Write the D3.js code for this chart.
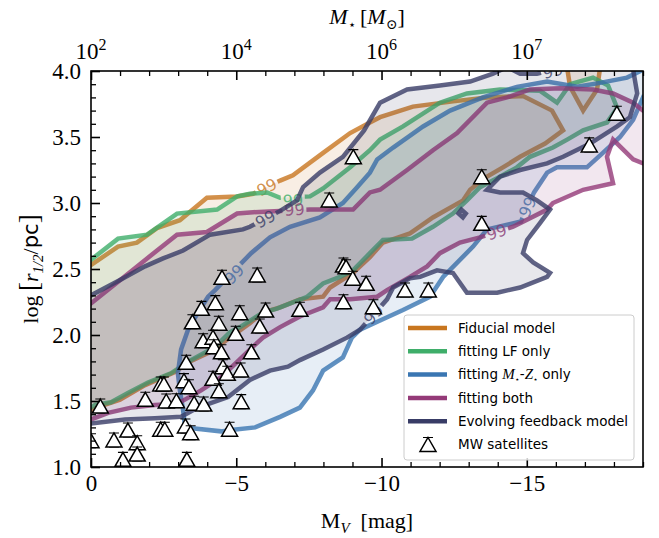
<!DOCTYPE html>
<html>
<head>
<meta charset="utf-8">
<script src="https://cdn.jsdelivr.net/npm/d3@7"></script>
<style>
  body { margin: 0; background: #fff; }
  svg { display: block; }
</style>
</head>
<body>
<svg id="chart" width="659" height="538"></svg>
<script>
// ---- axis ticks ----
const magTicks = [0, -5, -10, -15];
const massExponents = ["2", "4", "6", "7"];          // top axis: 10^n
const sizeTicks = [1.0, 1.5, 2.0, 2.5, 3.0, 3.5, 4.0];
const contourLevel = "99";

// ---- 99% contours, [M_V, log r_1/2] ----
const fiducialContour = [
  [[0.3,2.53],[0,2.53],[-0.93,2.67],[-1.58,2.70],[-2.27,2.81],[-3.06,2.87],[-3.99,3.04],[-5.03,3.05],[-5.58,3.07],
   [-6.51,3.17],[-6.95,3.21],[-7.99,3.38],[-8.92,3.53],[-9.60,3.61],[-9.95,3.65],[-11.08,3.73],[-12.46,3.77],
   [-13.63,3.80],[-14.87,3.81],[-15.87,3.70],[-16.25,3.55],[-15.63,3.45],[-14.77,3.35],[-14.18,3.27],[-13.56,3.19],
   [-13.05,3.10],[-12.81,3.02],[-11.77,2.89],[-10.98,2.77],[-10.05,2.70],[-9.60,2.59],[-9.26,2.52],[-9.02,2.47],
   [-8.23,2.36],[-7.99,2.29],[-7.19,2.27],[-6.51,2.21],[-5.92,2.17],[-5.47,2.09],[-4.78,1.98],[-4.10,1.87],
   [-3.41,1.80],[-2.89,1.72],[-1.86,1.62],[-1.00,1.51],[-0.31,1.46],[0,1.43],[0.3,1.43]],
  [[-16.3,4.15],[-16.49,3.88],[-16.94,3.70],[-17.42,3.86],[-17.6,4.15]]
];
const lfContour = [
  [[0.3,2.57],[0,2.57],[-0.93,2.73],[-1.93,2.76],[-2.96,2.92],[-4.34,2.95],[-5.03,3.05],[-5.47,3.07],[-6.06,3.08],
   [-6.51,3.04],[-7.54,3.05],[-7.99,3.11],[-8.92,3.27],[-9.60,3.40],[-9.95,3.48],[-10.74,3.58],[-12.01,3.76],
   [-12.94,3.83],[-14.08,3.86],[-15.46,3.85],[-16.04,3.76],[-16.49,3.90],[-17.28,3.95],[-17.80,3.89],[-18.11,3.72],
   [-17.76,3.61],[-16.94,3.55],[-16.39,3.48],[-15.90,3.42],[-15.11,3.35],[-14.66,3.27],[-14.08,3.20],[-13.39,3.12],
   [-12.94,3.02],[-12.46,2.92],[-11.77,2.82],[-11.05,2.73],[-10.05,2.72],[-9.60,2.62],[-9.02,2.49],[-8.57,2.44],
   [-7.99,2.39],[-7.44,2.29],[-6.40,2.20],[-5.92,2.17],[-5.13,2.06],[-4.78,2.02],[-4.27,1.91],[-3.44,1.81],
   [-2.75,1.71],[-1.96,1.64],[-1.27,1.56],[-0.69,1.49],[-0.14,1.47],[0,1.45],[0.3,1.45]]
];
const mzContour = [
  [[-3.24,1.30],[-3.17,1.43],[-3.06,1.58],[-2.99,1.71],[-3.10,1.89],[-3.34,2.04],[-3.68,2.17],[-4.03,2.29],
   [-4.27,2.34],[-5.51,2.62],[-6.16,2.74],[-6.85,2.82],[-7.88,2.89],[-8.67,3.00],[-9.16,3.12],[-9.60,3.23],
   [-9.85,3.33],[-10.40,3.42],[-11.43,3.58],[-12.36,3.70],[-13.49,3.80],[-14.66,3.88],[-15.70,3.92],[-16.73,3.88],
   [-17.52,3.91],[-18.45,3.95],[-19.00,4.01],[-19.6,4.07],[-19.6,3.72],[-19.00,3.80],[-18.66,3.63],[-18.21,3.50],
   [-17.62,3.38],[-17.07,3.27],[-16.04,3.27],[-15.70,3.23],[-15.25,3.08],[-14.80,2.86],[-13.63,2.80],[-13.15,2.67],
   [-12.12,2.44],[-11.67,2.29],[-10.74,2.19],[-9.95,2.11],[-9.26,2.04],[-8.98,1.98],[-8.67,1.83],[-7.99,1.73],
   [-7.64,1.58],[-7.19,1.45],[-6.51,1.38],[-5.65,1.30],[-4.82,1.28],[-4.48,1.27]]
];
const bothContour = [
  [[0.3,2.25],[0,2.24],[-1.03,2.42],[-1.93,2.58],[-2.96,2.76],[-3.99,2.78],[-5.03,2.92],[-5.58,2.93],[-7.54,2.95],
   [-9.02,2.95],[-9.60,3.08],[-9.95,3.10],[-10.88,3.25],[-11.77,3.40],[-12.60,3.53],[-13.63,3.76],[-14.32,3.80],
   [-15.11,3.86],[-16.14,3.87],[-17.28,3.86],[-17.97,3.83],[-18.66,3.76],[-19.00,3.70],[-19.6,3.64],[-19.6,3.29],
   [-19.00,3.30],[-18.66,3.33],[-17.97,3.48],[-17.76,3.35],[-17.97,3.15],[-16.94,3.10],[-15.90,3.00],[-15.70,2.95],
   [-14.53,2.82],[-13.39,2.74],[-12.70,2.70],[-12.01,2.62],[-11.57,2.52],[-10.98,2.44],[-10.19,2.34],[-9.85,2.29],
   [-8.92,2.27],[-8.23,2.27],[-7.99,2.21],[-7.19,2.14],[-6.51,2.06],[-5.92,1.98],[-5.47,1.89],[-4.48,1.68],
   [-3.79,1.58],[-2.99,1.48],[-2.20,1.47],[-1.38,1.45],[-0.59,1.41],[0,1.36],[0.3,1.36]]
];
const evolvingContour = [
  [[0.3,2.31],[0,2.30],[-1.03,2.42],[-1.86,2.52],[-2.48,2.58],[-3.17,2.64],[-4.10,2.76],[-5.23,2.80],[-5.47,2.82],
   [-6.51,2.94],[-7.09,3.02],[-7.30,3.12],[-7.88,3.23],[-8.67,3.35],[-9.40,3.55],[-9.95,3.76],[-10.88,3.86],
   [-12.01,3.89],[-13.05,3.92],[-13.84,3.98],[-14.32,4.03],[-14.77,3.98],[-15.35,3.98],[-16.5,4.04],[-17.0,4.15],
   [-18.40,4.15],[-18.66,4.01],[-18.80,3.83],[-18.55,3.65],[-18.11,3.58],[-17.18,3.45],[-16.25,3.35],[-15.70,3.30],
   [-14.77,3.25],[-14.08,3.20],[-13.63,3.10],[-14.08,3.08],[-14.87,3.08],[-15.35,3.02],[-15.80,2.95],[-15.46,2.85],
   [-15.01,2.72],[-14.87,2.62],[-15.22,2.55],[-15.80,2.47],[-15.70,2.44],[-14.77,2.36],[-13.98,2.32],[-12.94,2.32],
   [-12.46,2.47],[-11.91,2.49],[-11.33,2.44],[-10.98,2.43],[-10.40,2.36],[-10.19,2.27],[-9.26,2.04],[-8.81,1.98],
   [-7.99,1.89],[-7.19,1.81],[-6.78,1.76],[-6.16,1.73],[-5.47,1.66],[-4.72,1.53],[-3.68,1.45],[-3.10,1.38],
   [-2.20,1.37],[-1.17,1.36],[0,1.33],[0.3,1.33]],
  [[-12.75,2.95],[-12.9,2.92],[-12.8,2.89],[-12.65,2.92]]
];

// where each "99" contour label sits, [M_V, log r_1/2]
const fiducialLabels = [[-6.05,3.12]];
const lfLabels = [[-6.95,3.02]];
const mzLabels = [[-4.93,2.46],[-15.02,2.97]];
const bothLabels = [[-7.0,2.95],[-13.96,2.78]];
const evolvingLabels = [[-6.0,2.88],[-9.72,2.155],[-15.9,4.0]];

// ---- Milky Way satellites ----
const satMV = [-0.32,0.0,-0.79,-1.27,-1.59,-1.59,-1.10,-1.87,-2.40,-2.51,-2.59,-2.94,-2.40,-2.54,-3.20,-3.37,
  -3.28,-3.55,-3.88,-3.25,-3.43,-3.30,-3.49,-3.80,-4.28,-4.40,-4.51,-5.72,-3.86,-4.20,-4.23,-4.49,-4.98,-5.12,
  -6.01,-5.81,-5.52,-4.54,-4.69,-4.20,-4.40,-5.15,-5.17,-4.77,-7.19,-8.69,-8.78,-9.01,-9.47,-8.69,-9.72,-10.81,
  -11.61,-13.45,-13.45,-18.10,-17.15,-9.03,-8.20];
const satLogR = [1.462,1.199,1.205,1.28,1.184,1.098,1.058,1.513,1.629,1.629,1.50,1.502,1.286,1.286,1.654,1.608,
  1.793,1.483,1.477,1.311,1.26,1.058,2.10,2.202,2.245,2.089,2.437,2.455,1.957,1.983,1.911,1.873,2.013,2.169,
  2.189,2.068,1.873,1.76,1.71,1.672,1.578,1.735,1.495,1.286,2.195,2.53,2.517,2.43,2.392,2.252,2.214,2.341,
  2.341,3.199,2.846,3.68,3.44,3.351,3.023];

const models = [
  { name: "Fiducial model", color: "#c8761f", rings: fiducialContour, labels: fiducialLabels },
  { name: "fitting LF only", color: "#3fae6a", rings: lfContour, labels: lfLabels },
  { name: "fitting M-Z only", color: "#3a76b2", rings: mzContour, labels: mzLabels },
  { name: "fitting both", color: "#943a78", rings: bothContour, labels: bothLabels },
  { name: "Evolving feedback model", color: "#383c66", rings: evolvingContour, labels: evolvingLabels }
];

// ---- layout ----
const W = 659, H = 538;
const margin = { top: 71, right: 16, bottom: 71, left: 91 };
const x = d3.scaleLinear().domain([0, -19]).range([margin.left, W - margin.right]);
const y = d3.scaleLinear().domain([1, 4]).range([H - margin.bottom, margin.top]);
const serif = "'Liberation Serif', 'DejaVu Serif', serif";
const sans = "'DejaVu Sans', sans-serif";

const svg = d3.select("#chart");
const defs = svg.append("defs");
defs.append("clipPath").attr("id", "plotClip").append("rect")
  .attr("x", x(0)).attr("y", y(4)).attr("width", x(-19) - x(0)).attr("height", y(1) - y(4));

const plot = svg.append("g").attr("clip-path", "url(#plotClip)");
const line = d3.line().x(d => x(d[0])).y(d => y(d[1]));

// orientation of the contour segment closest to a label
function labelAngle(rings, px, py) {
  let best = { d: Infinity, a: 0 };
  rings.forEach(r => {
    const pts = r.map(p => [x(p[0]), y(p[1])]);
    for (let k = 0; k < pts.length; k++) {
      const a = pts[k], b = pts[(k + 1) % pts.length];
      const dx = b[0] - a[0], dy = b[1] - a[1];
      const L2 = dx * dx + dy * dy || 1;
      let t = ((px - a[0]) * dx + (py - a[1]) * dy) / L2;
      t = Math.max(0, Math.min(1, t));
      const qx = a[0] + t * dx - px, qy = a[1] + t * dy - py;
      const d = qx * qx + qy * qy;
      if (d < best.d) {
        let ang = Math.atan2(dy, dx) * 180 / Math.PI;
        if (ang > 90) ang -= 180;
        if (ang < -90) ang += 180;
        best = { d, a: ang };
      }
    }
  });
  return best.a;
}

models.forEach((m, i) => {
  const d = m.rings.map(r => line(r) + "Z").join("");
  plot.append("path").attr("d", d)
    .attr("fill", m.color).attr("fill-opacity", 0.12).attr("stroke", "none");

  const labelPos = m.labels.map(l => {
    const px = x(l[0]), py = y(l[1]);
    return { px, py, ang: labelAngle(m.rings, px, py) };
  });

  // inline label gaps
  const mask = defs.append("mask").attr("id", "gap" + i)
    .attr("maskUnits", "userSpaceOnUse").attr("x", 0).attr("y", 0).attr("width", W).attr("height", H);
  mask.append("rect").attr("width", W).attr("height", H).attr("fill", "white");
  labelPos.forEach(p => {
    mask.append("rect").attr("x", -12).attr("y", -7).attr("width", 24).attr("height", 14)
      .attr("fill", "black").attr("transform", `translate(${p.px},${p.py}) rotate(${p.ang})`);
  });

  plot.append("path").attr("d", d)
    .attr("fill", "none").attr("stroke", m.color).attr("stroke-opacity", 0.8)
    .attr("stroke-width", 4.5).attr("stroke-linejoin", "miter").attr("stroke-miterlimit", 3)
    .attr("mask", `url(#gap${i})`);

  labelPos.forEach(p => {
    plot.append("text").attr("transform", `translate(${p.px},${p.py}) rotate(${p.ang})`)
      .attr("text-anchor", "middle").attr("dy", "0.36em")
      .attr("font-family", sans).attr("font-size", 16)
      .attr("fill", m.color).attr("fill-opacity", 0.8)
      .text(contourLevel);
  });
});

// ---- satellites ----
const tri = "M0,-7L8,7L-8,7Z";
function satMarker(g) {
  g.append("path").attr("d", "M-5,-7H5M-5,7H5").attr("stroke", "#000").attr("stroke-width", 1.1);
  g.append("path").attr("d", tri).attr("fill", "#fff").attr("stroke", "#000").attr("stroke-width", 1.5)
    .attr("stroke-linejoin", "miter");
}
const sats = plot.append("g");
satMV.forEach((mv, i) => {
  const g = sats.append("g").attr("transform", `translate(${x(mv)},${y(satLogR[i])})`);
  satMarker(g);
});

// ---- axes ----
function styleAxis(g, width) {
  g.select(".domain").remove();
  g.selectAll(".tick line").attr("stroke", "#000").attr("stroke-width", width);
  g.selectAll(".tick text").attr("font-family", serif).attr("font-size", 23).attr("fill", "#000");
}
const minorMag = d3.range(0, -19.5, -1).filter(v => !magTicks.includes(v));
const minorSize = d3.range(10, 41, 1).map(v => v / 10).filter(v => !sizeTicks.includes(v));

const fmtMag = d => d === 0 ? "0" : "\u2212" + Math.abs(d);
svg.append("g").attr("transform", `translate(0,${y(1)})`)
  .call(d3.axisBottom(x).tickValues(magTicks).tickSize(-9).tickPadding(8).tickFormat(fmtMag))
  .call(g => styleAxis(g, 1.6));
svg.append("g").attr("transform", `translate(0,${y(1)})`)
  .call(d3.axisBottom(x).tickValues(minorMag).tickSize(-5).tickFormat(""))
  .call(g => styleAxis(g, 1.3));

svg.append("g").attr("transform", `translate(${x(0)},0)`)
  .call(d3.axisLeft(y).tickValues(sizeTicks).tickSize(-9).tickPadding(10).tickFormat(d3.format(".1f")))
  .call(g => styleAxis(g, 1.6));
svg.append("g").attr("transform", `translate(${x(0)},0)`)
  .call(d3.axisLeft(y).tickValues(minorSize).tickSize(-5).tickFormat(""))
  .call(g => styleAxis(g, 1.3));

svg.append("g").attr("transform", `translate(0,${y(4)})`)
  .call(d3.axisTop(x).tickValues(magTicks).tickSize(-9).tickFormat(""))
  .call(g => styleAxis(g, 1.6));
svg.append("g").attr("transform", `translate(0,${y(4)})`)
  .call(d3.axisTop(x).tickValues(minorMag).tickSize(-5).tickFormat(""))
  .call(g => styleAxis(g, 1.3));
magTicks.forEach((v, i) => {
  const t = svg.append("text").attr("x", x(v)).attr("y", y(4) - 12)
    .attr("text-anchor", "middle").attr("font-family", serif).attr("font-size", 23);
  t.append("tspan").text("10");
  t.append("tspan").attr("dy", -9).attr("font-size", 16).text(massExponents[i]);
});

// frame
svg.append("rect").attr("x", x(0)).attr("y", y(4)).attr("width", x(-19) - x(0)).attr("height", y(1) - y(4))
  .attr("fill", "none").attr("stroke", "#000").attr("stroke-width", 1.6);

// ---- axis titles ----
const cx = (x(0) + x(-19)) / 2;
const xt = svg.append("text").attr("x", cx).attr("y", 528).attr("text-anchor", "middle")
  .attr("font-family", serif).attr("font-size", 22);
xt.append("tspan").text("M");
xt.append("tspan").attr("dy", 5).attr("font-size", 15).attr("font-style", "italic").text("V");
xt.append("tspan").attr("dy", -5).text("\u2002[mag]");

const tt = svg.append("text").attr("x", cx).attr("y", 24).attr("text-anchor", "middle")
  .attr("font-family", serif).attr("font-size", 22);
tt.append("tspan").attr("font-style", "italic").text("M");
tt.append("tspan").attr("dy", 5).attr("font-size", 13).text("\u22C6");
tt.append("tspan").attr("dy", -5).text("\u2009[");
tt.append("tspan").attr("font-style", "italic").text("M");
tt.append("tspan").attr("dy", 5).attr("font-size", 14).text("\u2299");
tt.append("tspan").attr("dy", -5).text("]");

const cy = (y(1) + y(4)) / 2;
const yt = svg.append("text").attr("transform", `translate(38,${cy}) rotate(-90)`)
  .attr("text-anchor", "middle").attr("font-family", serif).attr("font-size", 22);
yt.append("tspan").text("log\u2009");
yt.append("tspan").attr("font-size", 27).text("[");
yt.append("tspan").attr("font-style", "italic").text("r");
yt.append("tspan").attr("dy", 5).attr("font-size", 15).attr("font-style", "italic").text("1/2");
yt.append("tspan").attr("dy", -5).text("/");
yt.append("tspan").attr("font-family", sans).attr("font-size", 21).text("pc");
yt.append("tspan").attr("font-size", 27).text("]");

// ---- legend ----
const lg = svg.append("g");
lg.append("rect").attr("x", 404).attr("y", 315).attr("width", 230).attr("height", 145).attr("rx", 3)
  .attr("fill", "#fff").attr("fill-opacity", 0.8).attr("stroke", "#cccccc").attr("stroke-width", 1);
const rowY = i => 328 + i * 23.3;
models.forEach((m, i) => {
  lg.append("line").attr("x1", 408).attr("x2", 447).attr("y1", rowY(i)).attr("y2", rowY(i))
    .attr("stroke", m.color).attr("stroke-width", 4.5);
  const t = lg.append("text").attr("x", 458).attr("y", rowY(i)).attr("dy", "0.35em")
    .attr("font-family", sans).attr("font-size", 13.5).attr("fill", "#000");
  if (i === 2) {
    t.append("tspan").text("fitting ");
    t.append("tspan").attr("font-family", serif).attr("font-style", "italic").attr("font-size", 15).text("M");
    t.append("tspan").attr("font-size", 8).attr("dy", 3).text("\u22C6");
    t.append("tspan").attr("dy", -3).text("-");
    t.append("tspan").attr("font-family", serif).attr("font-style", "italic").attr("font-size", 15).text("Z");
    t.append("tspan").attr("font-size", 8).attr("dy", 3).text("\u22C6");
    t.append("tspan").attr("dy", -3).text(" only");
  } else {
    t.text(m.name);
  }
});
const lm = lg.append("g").attr("transform", `translate(428,${rowY(5)})`);
satMarker(lm);
lg.append("text").attr("x", 458).attr("y", rowY(5)).attr("dy", "0.35em")
  .attr("font-family", sans).attr("font-size", 13.5).text("MW satellites");
</script>
</body>
</html>
